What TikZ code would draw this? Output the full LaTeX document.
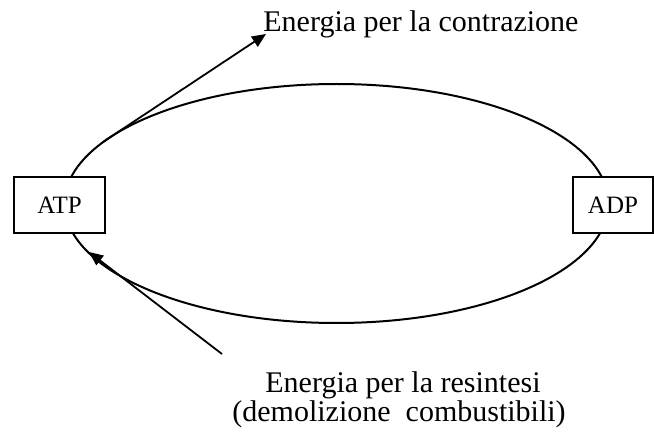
\documentclass[tikz,border=0pt]{standalone}
\usepackage{fontspec}
\setmainfont{Liberation Serif}
\usetikzlibrary{arrows.meta}
\begin{document}
\begin{tikzpicture}[x=0.5pt,y=-0.5pt,
  box/.style={draw,line width=1pt,fill=white,minimum height=28pt,inner sep=0pt,font=\fontsize{12.5}{14}\selectfont},
  lbl/.style={font=\fontsize{15}{18}\selectfont,inner sep=0pt,anchor=base west},
  arr/.style={line width=0.9pt,-{Triangle[length=7pt,width=6pt]}},
  cycle/.style={line width=1pt}]
\useasboundingbox (0,0) rectangle (654,433);
\coordinate (c) at (336.5,203.5);
\draw[cycle] (c) ellipse [x radius=136pt, y radius=59.75pt];
\node[box,minimum width=45.5pt] (atp) at (59.5,205) {ATP};
\node[box,minimum width=40pt] (adp) at (613,205) {ADP};
\node[lbl] (top) at (263,32) {Energia per la contrazione};
\node[lbl] (bot1) at (265,392) {Energia per la resintesi};
\node[lbl] (bot2) at (232,421) {(demolizione\ \ combustibili)};
\coordinate (s1) at (103,142);
\coordinate (t1) at (266,34);
\draw[arr] (s1) -- (t1);
\coordinate (s2) at (222,354);
\coordinate (t2) at (89,252);
\draw[arr] (s2) -- (t2);
\end{tikzpicture}
\end{document}
